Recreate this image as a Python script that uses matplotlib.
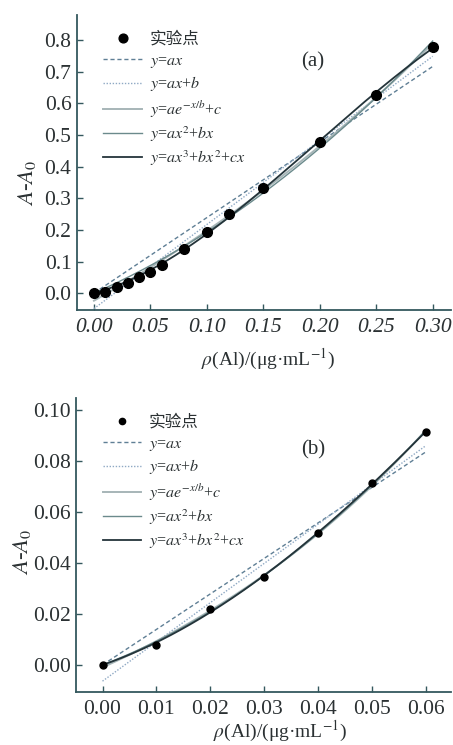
import numpy as np
import matplotlib
matplotlib.use("Agg")
import matplotlib.pyplot as plt

plt.rcParams['font.family'] = ['Liberation Serif', 'Noto Sans CJK SC', 'DejaVu Sans']
plt.rcParams['mathtext.fontset'] = 'stix'

# data
x_a = [0.0, 0.01, 0.02, 0.03, 0.04, 0.05, 0.06, 0.08, 0.10, 0.12, 0.15, 0.20, 0.25, 0.30]
y_a = [0.0, 0.004, 0.020, 0.032, 0.050, 0.068, 0.090, 0.139, 0.195, 0.250, 0.332, 0.479, 0.628, 0.779]
x_b = [0.0, 0.01, 0.02, 0.03, 0.04, 0.05, 0.06]
y_b = [0.0, 0.0078, 0.0220, 0.0346, 0.0516, 0.0712, 0.0915]

xticks_a = [0.00, 0.05, 0.10, 0.15, 0.20, 0.25, 0.30]
yticks_a = [0.0, 0.1, 0.2, 0.3, 0.4, 0.5, 0.6, 0.7, 0.8]
xticks_b = [0.00, 0.01, 0.02, 0.03, 0.04, 0.05, 0.06]
yticks_b = [0.00, 0.02, 0.04, 0.06, 0.08, 0.10]

labels = ['实验点', r'$y$=$ax$', r'$y$=$ax$+$b$', r'$y$=$ae^{-x/b}$+$c$',
          r'$y$=$ax^2$+$bx$', r'$y$=$ax^3$+$bx^2$+$cx$']

spine_col = '#34585e'
text_col = '#2b3133'


def fits(x, y, xs):
    x = np.asarray(x)
    y = np.asarray(y)
    out = []
    # y = ax
    a = np.sum(x * y) / np.sum(x * x)
    out.append(a * xs)
    # y = ax + b
    p = np.polyfit(x, y, 1)
    out.append(np.polyval(p, xs))
    # y = a exp(x/b) + c, grid search on b
    best = None
    for b in np.linspace(0.02, 5.0, 4000) * x.max():
        A = np.column_stack([np.exp(x / b), np.ones_like(x)])
        coef = np.linalg.lstsq(A, y, rcond=None)[0]
        r = np.sum((A @ coef - y) ** 2)
        if best is None or r < best[0]:
            best = (r, b, coef)
    _, b, coef = best
    out.append(coef[0] * np.exp(xs / b) + coef[1])
    # y = ax^2 + bx
    A = np.column_stack([x ** 2, x])
    c2 = np.linalg.lstsq(A, y, rcond=None)[0]
    out.append(c2[0] * xs ** 2 + c2[1] * xs)
    # y = ax^3 + bx^2 + cx
    A = np.column_stack([x ** 3, x ** 2, x])
    c3 = np.linalg.lstsq(A, y, rcond=None)[0]
    out.append(c3[0] * xs ** 3 + c3[1] * xs ** 2 + c3[2] * xs)
    return out


styles = [
    dict(color='#5f7f95', ls=(0, (3, 2)), lw=1.0),
    dict(color='#8fa9c4', ls=(0, (1, 1.2)), lw=1.0),
    dict(color='#a7b6b8', ls='-', lw=1.4),
    dict(color='#6b8a8c', ls='-', lw=1.0),
    dict(color='#24343a', ls='-', lw=1.3),
]


def draw(ax, x, y, ms, tag, tag_xy, xticks, yticks, fmt_x, fmt_y, italic_x):
    xs = np.linspace(0, max(x), 200)
    curves = fits(x, y, xs)
    ax.plot(x, y, 'o', color='black', ms=ms, zorder=5, label=labels[0])
    for c, st, lab in zip(curves, styles, labels[1:]):
        ax.plot(xs, c, label=lab, **st)
    for s in ['top', 'right']:
        ax.spines[s].set_visible(False)
    for s in ['left', 'bottom']:
        ax.spines[s].set_color(spine_col)
        ax.spines[s].set_linewidth(1.3)
    ax.set_xticks(xticks)
    ax.set_yticks(yticks)
    ax.set_xticklabels([fmt_x % v for v in xticks],
                       fontstyle='italic' if italic_x else 'normal')
    ax.set_yticklabels([fmt_y % v for v in yticks])
    ax.tick_params(direction='in', length=4, width=1, color=spine_col,
                   labelsize=15.5, labelcolor=text_col)
    ax.tick_params(axis='x', pad=6)
    ax.tick_params(axis='y', pad=4)
    ax.text(tag_xy[0], tag_xy[1], tag, fontsize=15, ha='center', va='center',
            color=text_col)
    leg = ax.legend(loc='upper left', bbox_to_anchor=(0.045, 0.975), frameon=False,
                    fontsize=11.5, handlelength=2.4, handletextpad=0.5,
                    labelspacing=0.3, borderaxespad=0.2, markerscale=0.9)
    for t in leg.get_texts():
        t.set_color(text_col)
    leg.get_texts()[0].set_fontsize(12)
    ax.set_ylabel(r'$A$-$A_0$', fontsize=16.5, color=text_col)
    ax.set_xlabel(r'$\rho$(Al)/(μg·mL$^{-1}$)', fontsize=14.0, color=text_col)


fig = plt.figure(figsize=(4.53, 7.45), dpi=100)
ax1 = fig.add_axes([0.170, 0.584, 0.825, 0.396])
ax2 = fig.add_axes([0.168, 0.0715, 0.827, 0.3945])

draw(ax1, x_a, y_a, 7, '(a)', (0.194, 0.73), xticks_a, yticks_a, '%.2f', '%.1f', True)
ax1.set_xlim(-0.015, 0.316)
ax1.set_ylim(-0.053, 0.88)
ax1.yaxis.set_label_coords(-0.105, 0.43)
ax1.xaxis.set_label_coords(0.51, -0.125)

draw(ax2, x_b, y_b, 5, '(b)', (0.039, 0.0843), xticks_b, yticks_b, '%.2f', '%.2f', False)
ax2.set_xlim(-0.0049, 0.0646)
ax2.set_ylim(-0.0105, 0.1047)
ax2.yaxis.set_label_coords(-0.115, 0.476)
ax2.xaxis.set_label_coords(0.545, -0.092)

fig.savefig('out.png', dpi=100)
